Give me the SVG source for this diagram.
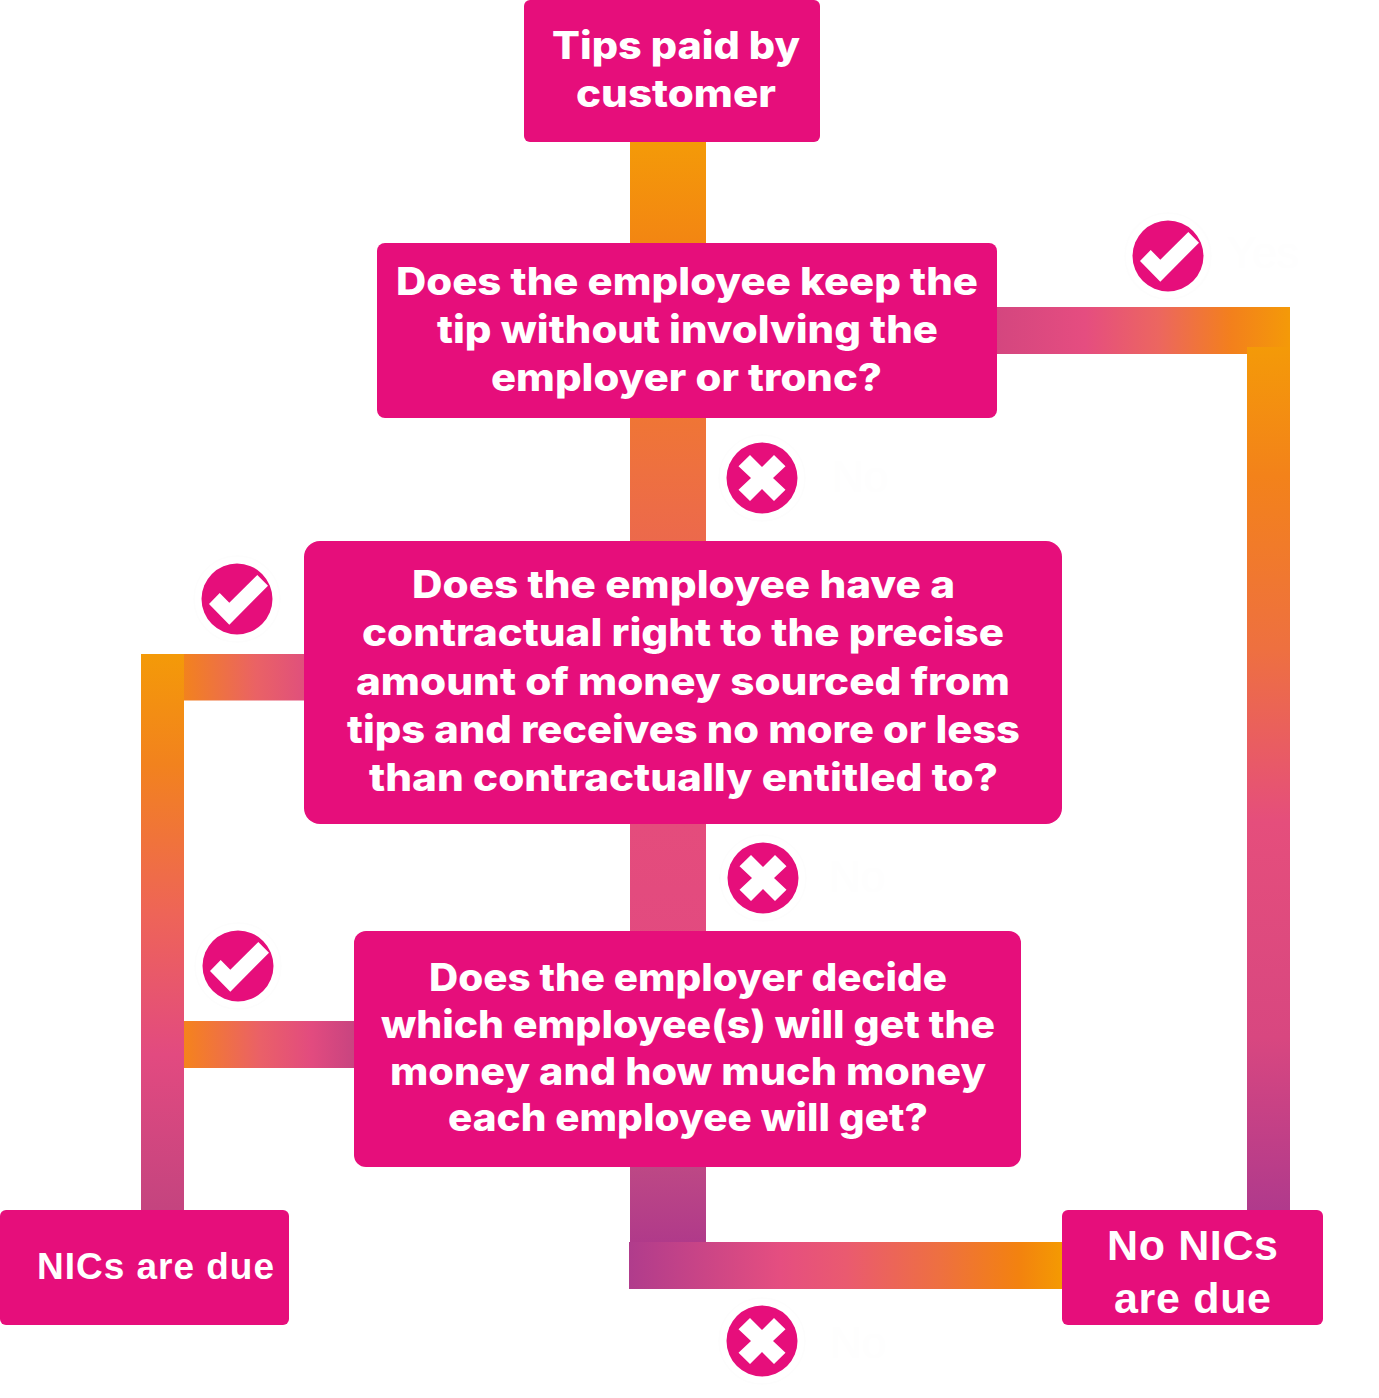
<svg xmlns="http://www.w3.org/2000/svg" width="1379" height="1398" viewBox="0 0 1379 1398">
  <style>
    .box { fill: #e60e7b; }
    .q { font-family: Inter, "Open Sans", "Liberation Sans", sans-serif; font-weight: 800; fill: #fff; font-size: 38px; }
    .r { font-family: "Liberation Sans", Arial, sans-serif; font-weight: 700; fill: #fff; }
    .faint { font-family: "Liberation Sans", Arial, sans-serif; font-size: 44px; fill: #fefefe; }
    .halo { fill: #fff; stroke: #fdfdfd; stroke-width: 1.5; }
    .disc { fill: #e60e7b; }
    .glyph { fill: #fff; }
  </style>
  <defs>
    <linearGradient id="gCentre" gradientUnits="userSpaceOnUse" x1="0" y1="142" x2="0" y2="1243">
      <stop offset="0" stop-color="#f49a08"/><stop offset="0.09" stop-color="#f38612"/><stop offset="0.3" stop-color="#ee7040"/><stop offset="0.62" stop-color="#e44c7c"/><stop offset="0.74" stop-color="#e24a80"/><stop offset="0.93" stop-color="#bd4885"/><stop offset="1" stop-color="#b03a8a"/>
    </linearGradient>
    <linearGradient id="gRightV" gradientUnits="userSpaceOnUse" x1="0" y1="347" x2="0" y2="1210">
      <stop offset="0" stop-color="#f49a08"/><stop offset="0.15" stop-color="#f3821a"/><stop offset="0.35" stop-color="#ee7040"/><stop offset="0.55" stop-color="#e54e7c"/><stop offset="0.8" stop-color="#d84780"/><stop offset="1" stop-color="#b03a8c"/>
    </linearGradient>
    <linearGradient id="gRightH" gradientUnits="userSpaceOnUse" x1="997" y1="0" x2="1290" y2="0">
      <stop offset="0" stop-color="#d4467f"/><stop offset="0.3" stop-color="#e54d80"/><stop offset="0.55" stop-color="#ec6660"/><stop offset="0.8" stop-color="#f3801c"/><stop offset="1" stop-color="#f49a08"/>
    </linearGradient>
    <linearGradient id="gLeftV" gradientUnits="userSpaceOnUse" x1="0" y1="654" x2="0" y2="1210">
      <stop offset="0" stop-color="#f49a08"/><stop offset="0.2" stop-color="#f2821e"/><stop offset="0.47" stop-color="#ee6458"/><stop offset="0.72" stop-color="#e24a80"/><stop offset="1" stop-color="#c4447f"/>
    </linearGradient>
    <linearGradient id="gLeftH1" gradientUnits="userSpaceOnUse" x1="184" y1="0" x2="304" y2="0">
      <stop offset="0" stop-color="#f2821e"/><stop offset="0.6" stop-color="#ea6265"/><stop offset="1" stop-color="#e0507c"/>
    </linearGradient>
    <linearGradient id="gLeftH2" gradientUnits="userSpaceOnUse" x1="184" y1="0" x2="354" y2="0">
      <stop offset="0" stop-color="#f5831c"/><stop offset="0.45" stop-color="#ea6068"/><stop offset="0.75" stop-color="#e24b7f"/><stop offset="1" stop-color="#c84480"/>
    </linearGradient>
    <linearGradient id="gBottom" gradientUnits="userSpaceOnUse" x1="629" y1="0" x2="1062" y2="0">
      <stop offset="0" stop-color="#b03c8c"/><stop offset="0.35" stop-color="#e54e80"/><stop offset="0.5" stop-color="#ea5a70"/><stop offset="0.72" stop-color="#ee7040"/><stop offset="0.9" stop-color="#f3820f"/><stop offset="1" stop-color="#f49a02"/>
    </linearGradient>
    <polygon id="check" points="-28,5 -17.3,-6 -7.7,3.7 20.3,-24 31,-13.3 -7.7,25.7"/>
    <polygon id="cross" points="0,-11 12,-23 23.5,-11.7 11,0 23.5,11.7 12,23 0,11 -12,23 -23.5,11.7 -11,0 -23.5,-11.7 -12,-23"/>
  </defs>

  <g id="connectors">
    <rect x="630" y="142" width="76" height="1101" fill="url(#gCentre)"/>
    <rect x="997" y="307" width="293" height="47" fill="url(#gRightH)"/>
    <rect x="1247" y="347" width="43" height="863" fill="url(#gRightV)"/>
    <rect x="184" y="654" width="120" height="46.500" fill="url(#gLeftH1)"/>
    <rect x="141" y="654" width="43" height="556" fill="url(#gLeftV)"/>
    <rect x="184" y="1021" width="170" height="47" fill="url(#gLeftH2)"/>
    <rect x="629" y="1242" width="433" height="47" fill="url(#gBottom)"/>
  </g>

  <g id="node-tips">
    <rect class="box" x="524" y="0" width="296" height="142" rx="6"/>
    <text class="q" x="552" y="59" textLength="248" lengthAdjust="spacingAndGlyphs">Tips paid by</text>
    <text class="q" x="576" y="107" textLength="200" lengthAdjust="spacingAndGlyphs">customer</text>
  </g>
  <g id="node-q1">
    <rect class="box" x="377" y="243" width="620" height="175" rx="8"/>
    <text class="q" x="396" y="295" textLength="582" lengthAdjust="spacingAndGlyphs">Does the employee keep the</text>
    <text class="q" x="437" y="343" textLength="501" lengthAdjust="spacingAndGlyphs">tip without involving the</text>
    <text class="q" x="491" y="391" textLength="391" lengthAdjust="spacingAndGlyphs">employer or tronc?</text>
  </g>
  <g id="node-q2">
    <rect class="box" x="304" y="541" width="758" height="283" rx="16"/>
    <text class="q" x="412" y="598" textLength="543" lengthAdjust="spacingAndGlyphs">Does the employee have a</text>
    <text class="q" x="362" y="646" textLength="642" lengthAdjust="spacingAndGlyphs">contractual right to the precise</text>
    <text class="q" x="356" y="695" textLength="654" lengthAdjust="spacingAndGlyphs">amount of money sourced from</text>
    <text class="q" x="347" y="743" textLength="673" lengthAdjust="spacingAndGlyphs">tips and receives no more or less</text>
    <text class="q" x="369" y="791" textLength="629" lengthAdjust="spacingAndGlyphs">than contractually entitled to?</text>
  </g>
  <g id="node-q3">
    <rect class="box" x="354" y="931" width="667" height="236" rx="12"/>
    <text class="q" x="429" y="991" textLength="518" lengthAdjust="spacingAndGlyphs">Does the employer decide</text>
    <text class="q" x="381" y="1038" textLength="614" lengthAdjust="spacingAndGlyphs">which employee(s) will get the</text>
    <text class="q" x="390" y="1085" textLength="596" lengthAdjust="spacingAndGlyphs">money and how much money</text>
    <text class="q" x="448" y="1131" textLength="480" lengthAdjust="spacingAndGlyphs">each employee will get?</text>
  </g>
  <g id="node-nics-due">
    <rect class="box" x="0" y="1210" width="289" height="115" rx="6"/>
    <text class="r" font-size="37" x="37" y="1279" textLength="237">NICs are due</text>
  </g>
  <g id="node-no-nics">
    <rect class="box" x="1062" y="1210" width="261" height="115" rx="6"/>
    <text class="r" font-size="43" x="1107" y="1260" textLength="171">No NICs</text>
    <text class="r" font-size="43" x="1114" y="1313" textLength="157">are due</text>
  </g>

  <g id="badge-yes-1">
    <circle class="halo" cx="1168" cy="256" r="43"/><circle class="disc" cx="1168" cy="256" r="35.500"/>
    <use class="glyph" href="#check" x="1168" y="256"/>
    <text class="faint" x="1227" y="268">Yes</text>
  </g>
  <g id="badge-no-1">
    <circle class="halo" cx="762" cy="478" r="43"/><circle class="disc" cx="762" cy="478" r="35.500"/>
    <use class="glyph" href="#cross" x="762" y="478"/>
    <text class="faint" x="832" y="492">No</text>
  </g>
  <g id="badge-yes-2">
    <circle class="halo" cx="237" cy="599" r="43"/><circle class="disc" cx="237" cy="599" r="35.500"/>
    <use class="glyph" href="#check" x="237" y="599"/>
  </g>
  <g id="badge-no-2">
    <circle class="halo" cx="763" cy="878" r="43"/><circle class="disc" cx="763" cy="878" r="35.500"/>
    <use class="glyph" href="#cross" x="763" y="878"/>
    <text class="faint" x="829" y="892">No</text>
  </g>
  <g id="badge-yes-3">
    <circle class="halo" cx="238" cy="966" r="43"/><circle class="disc" cx="238" cy="966" r="35.500"/>
    <use class="glyph" href="#check" x="238" y="966"/>
  </g>
  <g id="badge-no-3">
    <circle class="halo" cx="762" cy="1341" r="43"/><circle class="disc" cx="762" cy="1341" r="35.500"/>
    <use class="glyph" href="#cross" x="762" y="1341"/>
    <text class="faint" x="830" y="1358">No</text>
  </g>
</svg>
